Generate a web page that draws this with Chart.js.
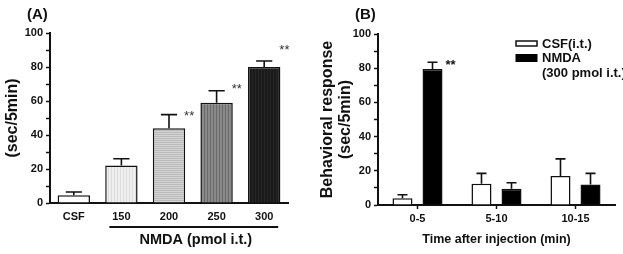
<!DOCTYPE html>
<html>
<head>
<meta charset="utf-8">
<script src="https://cdn.jsdelivr.net/npm/chart.js@4.4.1/dist/chart.umd.min.js"></script>
<style>
  html, body { margin: 0; padding: 0; background: #fff; }
  #wrap { position: relative; width: 623px; height: 254px; overflow: hidden; }
  #cA { position: absolute; left: 0; top: 0; }
  #cB { position: absolute; left: 310px; top: 0; }
</style>
</head>
<body>
<div id="wrap">
  <canvas id="cA" width="310" height="254"></canvas>
  <canvas id="cB" width="313" height="254"></canvas>
</div>
<script>
// panel A: dose response
const doseLabels = ["CSF", "150", "200", "250", "300"];
const doseMean = [4.5, 22, 44, 59, 80];
const doseSem = [2, 4, 8, 7, 3.5];
const doseStars = [null, null, 53, 69, 92];

// panel B: time course
const timeLabels = ["0-5", "5-10", "10-15"];
const csfMean = [4, 12.5, 17];
const csfSem = [2, 6, 10];
const nmdaMean = [79.5, 9.5, 12];
const nmdaSem = [4, 3.5, 6.5];
const nmdaStars = [84, null, null];

const FONT = "'Liberation Sans', Arial, sans-serif";
Chart.defaults.font.family = FONT;
Chart.defaults.color = "#111";

function makePattern(bg, line, vertical, step) {
    const c = document.createElement("canvas");
    c.width = step; c.height = step;
    const g = c.getContext("2d");
    g.fillStyle = bg;
    g.fillRect(0, 0, step, step);
    g.fillStyle = line;
    if (vertical) g.fillRect(0, 0, 1, step);
    else g.fillRect(0, 0, step, 1);
    return g.createPattern(c, "repeat");
}

// error bars (upper only) + significance marks
const errorBars = {
    id: "errs",
    afterDatasetsDraw(chart, args, opts) {
        const ctx = chart.ctx;
        const y = chart.scales.y;
        chart.data.datasets.forEach((ds, i) => {
            const meta = chart.getDatasetMeta(i);
            meta.data.forEach((bar, j) => {
                const e = ds.errors ? ds.errors[j] : null;
                ctx.save();
                if (e) {
                    const top = y.getPixelForValue(ds.data[j] + e);
                    const half = bar.width / 4;
                    ctx.strokeStyle = "#111";
                    ctx.lineWidth = 1.6;
                    ctx.beginPath();
                    ctx.moveTo(bar.x, bar.y);
                    ctx.lineTo(bar.x, top);
                    ctx.moveTo(bar.x - half, top);
                    ctx.lineTo(bar.x + half, top);
                    ctx.stroke();
                }
                const s = ds.stars ? ds.stars[j] : null;
                if (s != null) {
                    ctx.font = opts.starFont;
                    ctx.fillStyle = opts.starColor;
                    ctx.textAlign = "center";
                    ctx.textBaseline = "middle";
                    ctx.fillText("**", bar.x + bar.width / 2 + opts.starDx, y.getPixelForValue(s) + 4);
                }
                ctx.restore();
            });
        });
    }
};

const panelA = {
    id: "panelA",
    afterDraw(chart) {
        const ctx = chart.ctx;
        const x = chart.scales.x;
        ctx.save();
        ctx.fillStyle = "#111";
        ctx.font = "bold 15px " + FONT;
        ctx.textBaseline = "middle";
        ctx.fillText("(A)", 27, 15);
        const x0 = x.getPixelForValue(1) - 12;
        const x1 = x.getPixelForValue(4) + 14;
        ctx.strokeStyle = "#111";
        ctx.lineWidth = 2;
        ctx.beginPath();
        ctx.moveTo(x0, 227);
        ctx.lineTo(x1, 227);
        ctx.stroke();
        ctx.font = "bold 14.5px " + FONT;
        ctx.textAlign = "center";
        ctx.fillText("NMDA (pmol i.t.)", (x0 + x1) / 2 + 2, 240);
        ctx.restore();
    }
};

const panelB = {
    id: "panelB",
    afterDraw(chart) {
        const ctx = chart.ctx;
        const area = chart.chartArea;
        ctx.save();
        ctx.fillStyle = "#111";
        ctx.font = "bold 15px " + FONT;
        ctx.textBaseline = "middle";
        ctx.fillText("(B)", 45, 15);
        // legend
        const lx = area.right - 99;
        ctx.lineWidth = 1.5;
        ctx.strokeStyle = "#111";
        ctx.fillStyle = "#fff";
        ctx.fillRect(lx, 41, 21, 5);
        ctx.strokeRect(lx, 41, 21, 5);
        ctx.fillStyle = "#000";
        ctx.fillRect(lx - 0.5, 54, 22, 8);
        ctx.fillStyle = "#111";
        ctx.font = "bold 13px " + FONT;
        ctx.fillText("CSF(i.t.)", lx + 26, 44);
        ctx.fillText("NMDA", lx + 26, 58);
        ctx.fillText("(300 pmol i.t.)", lx + 26, 73);
        ctx.restore();
    }
};

function yScale(width, title, titlePad) {
    return {
        min: 0,
        max: 100,
        afterFit(s) { s.width = width; },
        ticks: {
            stepSize: 10,
            autoSkip: false,
            padding: 3,
            color: "#111",
            font: { size: 11, weight: "bold" },
            callback: v => (v % 20 === 0 ? v : "")
        },
        grid: { drawOnChartArea: false, drawTicks: true, tickLength: 4, tickColor: "#111", tickWidth: 1.5 },
        border: { display: true, color: "#111", width: 2 },
        title: {
            display: true,
            text: title,
            color: "#111",
            font: { size: 16, weight: "bold", lineHeight: 1.15 },
            padding: { top: titlePad, bottom: 0 }
        }
    };
}

const ctxA = document.getElementById("cA").getContext("2d");
new Chart(ctxA, {
    type: "bar",
    data: {
        labels: doseLabels,
        datasets: [
            {
                data: doseMean,
                errors: doseSem,
                stars: doseStars,
                backgroundColor: [
                    "#ffffff",
                    makePattern("#efefef", "#dcdcdc", true, 3),
                    makePattern("#d4d4d4", "#bababa", false, 2),
                    makePattern("#898989", "#6a6a6a", true, 3),
                    makePattern("#1a1a1a", "#262626", true, 3)
                ],
                borderColor: "#111",
                borderWidth: 1.5,
                barPercentage: 0.68,
                categoryPercentage: 1
            }
        ]
    },
    options: {
        responsive: false,
        animation: false,
        layout: { padding: { top: 33, right: 22, bottom: 0, left: 0 } },
        plugins: {
            legend: { display: false },
            tooltip: { enabled: false },
            errs: { starDx: 4, starFont: "13px " + FONT, starColor: "#333" }
        },
        scales: {
            x: {
                afterFit(s) { s.height = 51; },
                grid: { display: false, drawTicks: false },
                border: { display: true, color: "#111", width: 2 },
                ticks: { padding: 7, color: "#111", font: { size: 11, weight: "bold" } }
            },
            y: yScale(50, "(sec/5min)", 3)
        }
    },
    plugins: [errorBars, panelA]
});

const ctxB = document.getElementById("cB").getContext("2d");
new Chart(ctxB, {
    type: "bar",
    data: {
        labels: timeLabels,
        datasets: [
            {
                label: "CSF(i.t.)",
                data: csfMean,
                errors: csfSem,
                backgroundColor: "#ffffff",
                borderColor: "#111",
                borderWidth: 1.5,
                barPercentage: 0.667,
                categoryPercentage: 0.76
            },
            {
                label: "NMDA (300 pmol i.t.)",
                data: nmdaMean,
                errors: nmdaSem,
                stars: nmdaStars,
                backgroundColor: "#000000",
                borderColor: "#111",
                borderWidth: 1.5,
                barPercentage: 0.667,
                categoryPercentage: 0.76
            }
        ]
    },
    options: {
        responsive: false,
        animation: false,
        layout: { padding: { top: 34, right: 8, bottom: 0, left: 0 } },
        plugins: {
            legend: { display: false },
            tooltip: { enabled: false },
            errs: { starDx: 8, starFont: "bold 13px " + FONT, starColor: "#111" }
        },
        scales: {
            x: {
                afterFit(s) { s.height = 49; },
                grid: { drawOnChartArea: false, drawTicks: true, tickLength: 4, tickColor: "#111", tickWidth: 1.5, offset: false },
                border: { display: true, color: "#111", width: 2 },
                ticks: { padding: 3, color: "#111", font: { size: 11, weight: "bold" } },
                title: {
                    display: true,
                    text: "Time after injection (min)",
                    color: "#111",
                    font: { size: 12.5, weight: "bold" },
                    padding: { top: 0, bottom: 7 }
                }
            },
            y: yScale(68, ["Behavioral response", "(sec/5min)"], 8)
        }
    },
    plugins: [errorBars, panelB]
});
</script>
</body>
</html>
